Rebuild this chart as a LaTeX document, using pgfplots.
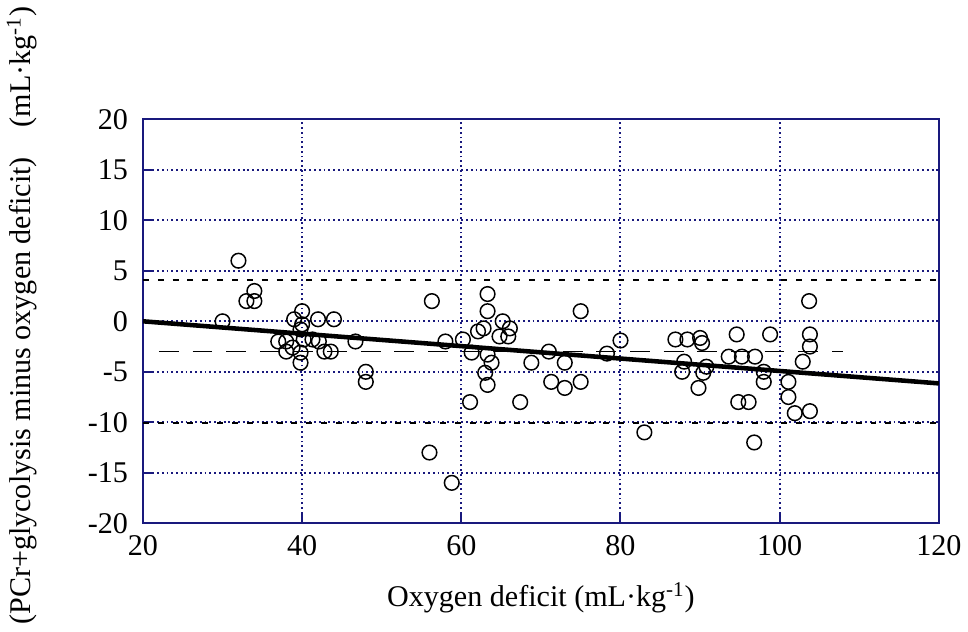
\documentclass[border=0pt]{standalone}
\usepackage{pgfplots}
\pgfplotsset{compat=1.18}
\usepackage{fontspec}
\setmainfont{Liberation Serif}
\definecolor{frame}{RGB}{25,25,125}
\begin{document}
\begin{tikzpicture}
\begin{axis}[
  scale only axis, width=402pt, height=204pt,
  xmin=20, xmax=120, ymin=-20, ymax=20,
  xtick={20,40,60,80,100,120}, ytick={-20,-15,-10,-5,0,5,10,15,20},
  grid=major,
  grid style={frame, line width=1pt, dash pattern=on 0.9pt off 1.5pt},
  axis line style={frame, line width=1pt},
  tick style={frame, line width=1pt},
  major tick length=5pt, tick align=inside, tick pos=left,
  font=\fontsize{15.2}{18}\selectfont,
  /pgf/number format/assume math mode=true,
  xticklabel style={yshift=-2.5pt},
  yticklabel style={xshift=-4pt},
  xlabel={Oxygen deficit (mL·kg\textsuperscript{-1})},
  xlabel style={at={(axis description cs:0.5,-0.185)}, anchor=center},
  ylabel={(PCr+glycolysis minus oxygen deficit)\quad(mL·kg\textsuperscript{-1})},
  ylabel style={at={(axis description cs:-0.152,0.514)}, anchor=center, rotate=0},
  clip=true,
]
% limits of agreement
\addplot[black, line width=0.8pt, dash pattern=on 3pt off 4.5pt] coordinates {(20,4.1) (120,4.1)};
\addplot[black, line width=0.8pt, dash pattern=on 3pt off 4.5pt] coordinates {(20,-10.1) (120,-10.1)};
% mean difference
\addplot[black, line width=0.8pt, dash pattern=on 10pt off 7pt] coordinates {(22,-3) (108,-3)};
% regression line
\addplot[black, line width=2.3pt] coordinates {(20,0) (120,-6.15)};
% data
\addplot[only marks, mark=o, mark size=3.7pt, mark options={black, line width=0.75pt}] coordinates {
(30,0) (32,6) (33,2) (34,2) (34,3)
(37,-2) (38,-2) (38,-3) (39,0.2) (39.8,-0.8) (40,1) (40,-0.3) (40.2,-1.8) (38.8,-2.6) (39.8,-3.1) (39.8,-4.1)
(41.3,-1.8) (42,0.2) (42.1,-2) (42.8,-3) (43.6,-3) (44,0.2) (46.7,-2) (48,-5) (48,-6)
(56.3,2) (56,-13) (58.8,-16) (58,-2) (60.2,-1.8) (61.1,-8) (61.3,-3.1) (62.1,-1) (62.8,-0.7)
(63.3,2.7) (63.3,1) (63.3,-3.3) (63.8,-4.1) (63,-5.1) (63.3,-6.3) (65.2,0) (66.1,-0.7) (65.9,-1.5) (64.8,-1.5)
(67.4,-8) (68.8,-4.1) (71,-3) (71.3,-6) (73,-4.1) (73,-6.6) (75,1) (75,-6) (78.3,-3.2) (80,-1.9)
(83,-11) (86.9,-1.8) (88.4,-1.8) (90,-1.65) (90.25,-2.15) (88,-4) (87.75,-5) (90.8,-4.5) (89.8,-6.6) (90.4,-5.1)
(94.6,-1.3) (98.8,-1.3) (93.6,-3.5) (95.25,-3.5) (96.9,-3.5) (98,-5) (98,-6) (94.8,-8) (96.1,-8) (96.8,-12)
(101.1,-6) (101.1,-7.5) (101.9,-9.1) (103.8,-8.9) (102.9,-4) (103.8,-2.5) (103.8,-1.3) (103.7,2)
};
\end{axis}
\end{tikzpicture}
\end{document}
